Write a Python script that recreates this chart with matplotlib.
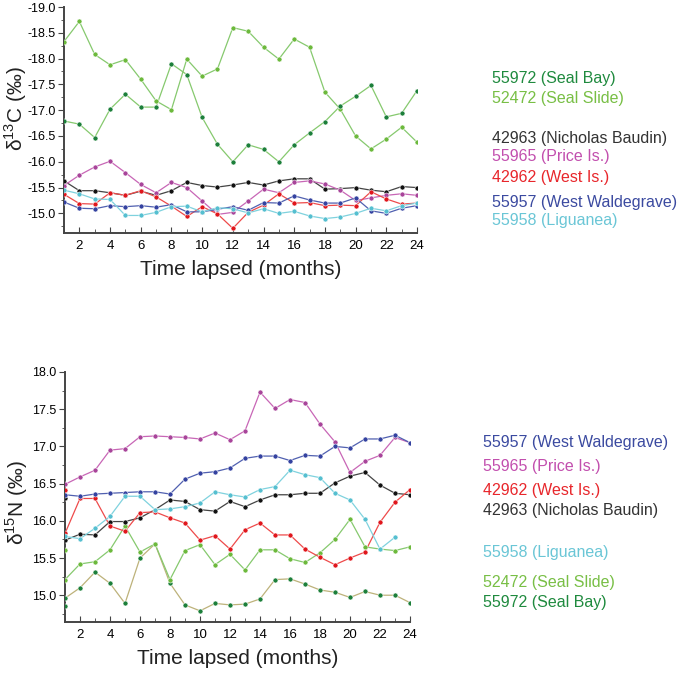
import numpy as np
import matplotlib
matplotlib.use('Agg')
import matplotlib.pyplot as plt
from matplotlib.ticker import MultipleLocator

plt.rcParams['font.family'] = ['Liberation Sans', 'DejaVu Sans']
plt.rcParams['mathtext.fontset'] = 'custom'
plt.rcParams['mathtext.rm'] = 'Liberation Sans'

months = list(range(1, 25))

# d13C values (top panel)
seal_bay_c = [-16.79, -16.73, -16.47, -17.02, -17.31, -17.06, -17.06, -17.90, -17.69, -16.86, -16.34, -16.00,
              -16.33, -16.24, -16.00, -16.33, -16.56, -16.78, -17.08, -17.27, -17.48, -16.87, -16.94, -17.38]
seal_slide_c = [-18.33, -18.72, -18.08, -17.88, -17.98, -17.60, -17.18, -17.01, -17.99, -17.66, -17.80, -18.60,
                -18.53, -18.22, -17.99, -18.38, -18.22, -17.35, -17.02, -16.50, -16.25, -16.44, -16.67, -16.38]
baudin_c = [-15.63, -15.44, -15.44, -15.40, -15.35, -15.43, -15.35, -15.44, -15.60, -15.54, -15.51, -15.55,
            -15.60, -15.55, -15.63, -15.67, -15.67, -15.47, -15.48, -15.50, -15.45, -15.42, -15.52, -15.50]
price_c = [-15.54, -15.74, -15.90, -16.01, -15.79, -15.56, -15.40, -15.60, -15.50, -15.24, -14.98, -15.02,
           -15.24, -15.47, -15.40, -15.60, -15.63, -15.57, -15.45, -15.25, -15.30, -15.35, -15.38, -15.35]
west_c = [-15.37, -15.19, -15.18, -15.40, -15.35, -15.44, -15.32, -15.14, -14.94, -15.13, -14.99, -14.71,
          -15.02, -15.16, -15.38, -15.20, -15.21, -15.15, -15.16, -15.15, -15.42, -15.28, -15.18, -15.20]
waldegrave_c = [-15.22, -15.10, -15.09, -15.15, -15.13, -15.15, -15.12, -15.17, -15.03, -15.03, -15.08, -15.13,
                -15.06, -15.21, -15.20, -15.34, -15.26, -15.20, -15.20, -15.30, -15.05, -15.00, -15.10, -15.15]
liguanea_c = [-15.45, -15.38, -15.28, -15.27, -14.96, -14.96, -15.02, -15.13, -15.14, -15.03, -15.11, -15.09,
              -15.01, -15.09, -15.00, -15.04, -14.95, -14.90, -14.93, -15.00, -15.10, -15.05, -15.15, -15.20]

# d15N values (bottom panel); 25 values = two readings at month 1
seal_bay_n = [14.85, 14.96, 15.10, 15.31, 15.16, 14.89, 15.50, 15.69, 15.16, 14.87, 14.79, 14.89, 14.87,
              14.88, 14.95, 15.21, 15.22, 15.15, 15.07, 15.04, 14.97, 15.05, 15.00, 15.00, 14.90]
seal_slide_n = [15.61, 15.21, 15.42, 15.45, 15.61, 15.93, 15.58, 15.69, 15.21, 15.60, 15.68, 15.41, 15.55,
                15.34, 15.61, 15.61, 15.49, 15.44, 15.57, 15.75, 16.02, 15.65, 15.62, 15.60, 15.65]
baudin_n = [16.30, 15.74, 15.82, 15.81, 15.99, 15.99, 16.04, 16.15, 16.28, 16.26, 16.15, 16.13, 16.26,
            16.19, 16.28, 16.35, 16.35, 16.37, 16.37, 16.51, 16.60, 16.65, 16.48, 16.37, 16.35]
west_n = [16.42, 15.83, 16.30, 16.30, 15.93, 15.86, 16.11, 16.12, 16.04, 15.97, 15.74, 15.80, 15.62,
          15.88, 15.97, 15.81, 15.81, 15.62, 15.51, 15.41, 15.50, 15.58, 15.98, 16.25, 16.42]
price_n = [16.49, 16.59, 16.68, 16.95, 16.97, 17.13, 17.14, 17.13, 17.12, 17.10, 17.18, 17.09,
           17.21, 17.73, 17.51, 17.63, 17.59, 17.30, 17.06, 16.65, 16.80, 16.88, 17.12, 17.05]
waldegrave_n = [16.35, 16.33, 16.36, 16.37, 16.38, 16.39, 16.39, 16.36, 16.56, 16.64, 16.66, 16.71,
                16.84, 16.87, 16.87, 16.81, 16.88, 16.87, 17.00, 16.98, 17.10, 17.10, 17.15, 17.05]
liguanea_n = [15.79, 15.76, 15.90, 16.06, 16.33, 16.33, 16.15, 16.16, 16.19, 16.24, 16.39, 16.35,
              16.32, 16.42, 16.46, 16.68, 16.62, 16.58, 16.37, 16.28, 16.02, 15.62, 15.78]

labels_c = ['55972 (Seal Bay)', '52472 (Seal Slide)', '42963 (Nicholas Baudin)', '55965 (Price Is.)',
            '42962 (West Is.)', '55957 (West Waldegrave)', '55958 (Liguanea)']
labels_n = ['55957 (West Waldegrave)', '55965 (Price Is.)', '42962 (West Is.)', '42963 (Nicholas Baudin)',
            '55958 (Liguanea)', '52472 (Seal Slide)', '55972 (Seal Bay)']

text_col = {'55972': '#1f8a3e', '52472': '#78bf45', '42963': '#333333', '55965': '#c24fae',
            '42962': '#e8262b', '55957': '#3b4aa0', '55958': '#6ac6d6'}

# (line colour, marker colour)
sty = {'seal_bay': ('#86c96e', '#1c7f3a'), 'seal_slide': ('#86c96e', '#6cb93c'),
       'baudin': ('#444444', '#111111'), 'price': ('#c866b6', '#a8449a'),
       'west': ('#ee4a4a', '#e0161c'), 'waldegrave': ('#5060b0', '#3442a0'),
       'liguanea': ('#7fd2de', '#55bfd0')}

fig = plt.figure(figsize=(6.86, 6.76), dpi=100)
W, H = 686, 676


def draw(ax, x, y, key, line_col=None):
    lc, mc = sty[key]
    if line_col:
        lc = line_col
    ax.plot(x, y, '-', color=lc, lw=0.9, zorder=2)
    ax.plot(x, y, 'o', color=mc, ms=3.6, mec='white', mew=0.4, zorder=3)


def xs(vals):
    if len(vals) == 25:
        return [1] + months
    return months[:len(vals)]


def style(ax):
    for s in ['top', 'right']:
        ax.spines[s].set_visible(False)
    for s in ['left', 'bottom']:
        ax.spines[s].set_color('#444444')
        ax.spines[s].set_linewidth(1.4)
    ax.set_xlim(1, 24)
    ax.xaxis.set_major_locator(MultipleLocator(2))
    ax.xaxis.set_minor_locator(MultipleLocator(1))
    ax.yaxis.set_major_locator(MultipleLocator(0.5))
    ax.yaxis.set_minor_locator(MultipleLocator(0.25))
    ax.tick_params(axis='x', which='both', direction='in', color='#444444', labelsize=9.5, pad=5)
    ax.tick_params(axis='x', which='major', length=4)
    ax.tick_params(axis='x', which='minor', length=3)
    ax.tick_params(axis='y', which='both', direction='out', color='#444444', labelsize=9, pad=2)
    ax.tick_params(axis='y', which='major', length=4)
    ax.tick_params(axis='y', which='minor', length=2.5)
    ax.set_xlabel('Time lapsed (months)', fontsize=15, color='#222222', labelpad=6)


# top panel
ax1 = fig.add_axes([64 / W, 1 - 233 / H, (417 - 64) / W, (233 - 7) / H])
draw(ax1, months, seal_slide_c, 'seal_slide')
draw(ax1, months, seal_bay_c, 'seal_bay')
draw(ax1, months, baudin_c, 'baudin')
draw(ax1, months, price_c, 'price')
draw(ax1, months, west_c, 'west')
draw(ax1, months, waldegrave_c, 'waldegrave')
draw(ax1, months, liguanea_c, 'liguanea')
style(ax1)
ax1.set_ylim(-14.62, -19.0)
ax1.set_yticks(np.arange(-19.0, -14.9, 0.5))
ax1.yaxis.set_major_formatter(matplotlib.ticker.FormatStrFormatter('%.1f'))
ax1.set_ylabel('δ$^{13}$C (‰)', fontsize=15, color='#222222')
ax1.yaxis.set_label_coords(-0.1, 0.55)

# bottom panel
ax2 = fig.add_axes([65 / W, 1 - 622 / H, (410 - 65) / W, (622 - 372) / H])
draw(ax2, xs(seal_bay_n), seal_bay_n, 'seal_bay', line_col='#bdb27a')
draw(ax2, xs(seal_slide_n), seal_slide_n, 'seal_slide')
draw(ax2, xs(baudin_n), baudin_n, 'baudin')
draw(ax2, xs(west_n), west_n, 'west')
draw(ax2, xs(price_n), price_n, 'price')
draw(ax2, xs(waldegrave_n), waldegrave_n, 'waldegrave')
draw(ax2, xs(liguanea_n), liguanea_n, 'liguanea')
style(ax2)
ax2.set_ylim(14.64, 18.0)
ax2.set_yticks(np.arange(15.0, 18.01, 0.5))
ax2.yaxis.set_major_formatter(matplotlib.ticker.FormatStrFormatter('%.1f'))
ax2.set_ylabel('δ$^{15}$N (‰)', fontsize=15, color='#222222')
ax2.yaxis.set_label_coords(-0.1, 0.48)

# legend texts
y_c = [79, 99, 139, 157, 177, 202, 220]
for lab, yy in zip(labels_c, y_c):
    fig.text(492 / W, 1 - yy / H, lab, color=text_col[lab[:5]], fontsize=11.5, va='center', ha='left')
y_n = [442, 467, 490, 510, 553, 583, 602]
for lab, yy in zip(labels_n, y_n):
    fig.text(483 / W, 1 - yy / H, lab, color=text_col[lab[:5]], fontsize=11.5, va='center', ha='left')

fig.savefig('out.png', dpi=100)
